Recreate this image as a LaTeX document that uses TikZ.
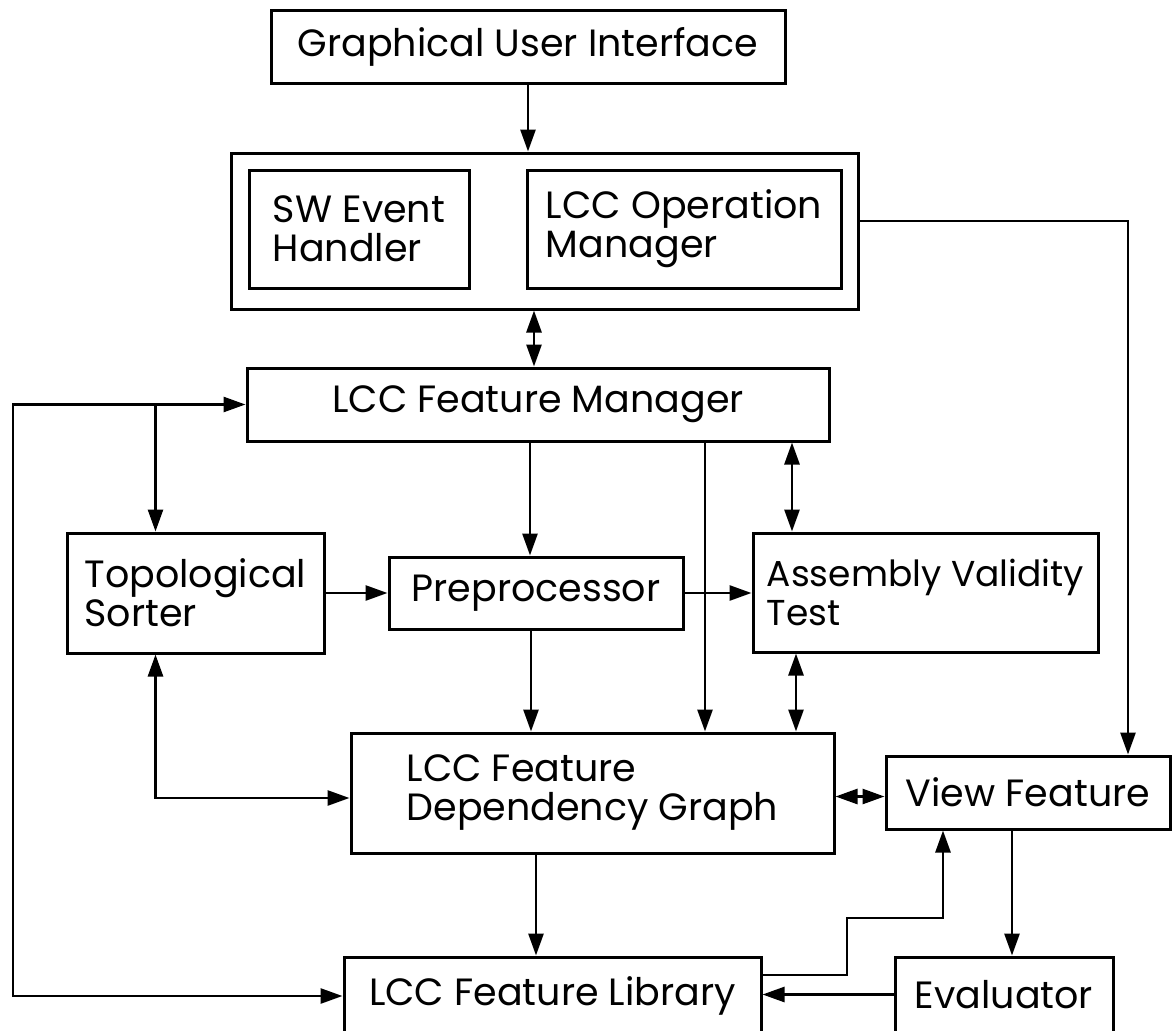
\documentclass[tikz,border=0pt]{standalone}
\usepackage{fontspec}
\setmainfont{Poppins}
\usetikzlibrary{arrows.meta}
\newcommand{\lblfont}{\fontsize{38}{39}\selectfont}
\tikzset{
  box/.style={draw, line width=3pt, inner sep=0pt, align=left, font=\lblfont},
  conn/.style={line width=2.7pt},
  arr/.style={conn, -{Triangle[length=22pt,width=15pt]}},
  darr/.style={conn, {Triangle[length=22pt,width=15pt]}-{Triangle[length=22pt,width=15pt]}}
}
\begin{document}
\begin{tikzpicture}[x=1pt, y=-1pt]
\useasboundingbox (0,0) rectangle (1173,1031);
\fill[white] (0,0) rectangle (1173,1031);
\clip (0,0) rectangle (1173,1031);

% helper x-positions for vertical connectors
\coordinate (c705) at (705,0);
\coordinate (c792) at (792,0);
\coordinate (c796) at (796,0);
\coordinate (c531) at (531,0);
\coordinate (c536) at (536,0);
\coordinate (rail) at (13,0);
\coordinate (jog) at (847,918);

% boxes
\node[box, minimum width=514pt, minimum height=73pt] (gui) at (528,46.5) {Graphical User Interface};
\node[box, minimum width=627pt, minimum height=156pt] (outer) at (544.5,231) {};
\node[box, minimum width=220pt, minimum height=118pt] (sw) at (359,229) {SW Event\\Handler};
\node[box, minimum width=314pt, minimum height=118pt] (op) at (684,229) {LCC Operation\\Manager};
\node[box, minimum width=582pt, minimum height=73pt] (fm) at (538,404.5) {LCC Feature Manager};
\node[box, minimum width=257pt, minimum height=120pt] (topo) at (195.5,593) {Topological\\Sorter};
\node[box, minimum width=294pt, minimum height=72pt] (pre) at (536,593) {Preprocessor};
\node[box, minimum width=345pt, minimum height=119pt, font=\fontsize{36}{39}\selectfont] (asm) at (925.5,592.5) {Assembly Validity\\Test};
\node[box, minimum width=483pt, minimum height=120pt] (fdg) at (592.5,793) {LCC Feature\\Dependency Graph};
\node[box, minimum width=284pt, minimum height=73pt] (vf) at (1028,792.5) {View Feature};
\node[box, minimum width=417pt, minimum height=78pt] (lib) at (552.5,996) {LCC Feature Library};
\node[box, minimum width=218pt, minimum height=75pt] (eval) at (1004,994.5) {Evaluator};

% entry points on the sides of the graph and view boxes
\coordinate (vfin) at ([yshift=-4pt]vf.west);
\coordinate (fdgin) at ([yshift=-5pt]fdg.west);

% connectors
\draw[arr] (gui.south) -- (gui.south |- outer.north);
\draw[darr] ([xshift=-4pt]fm.north |- outer.south) -- ([xshift=-4pt]fm.north);
\draw[darr] (fm.west) -- (fm.west -| rail) -- (lib.west -| rail) -- (lib.west);
\draw[arr] ([xshift=-40pt]topo.north |- fm.west) -- ([xshift=-40pt]topo.north);
\draw[arr] ([xshift=-6pt]pre.north |- fm.south) -- ([xshift=-6pt]pre.north);
\draw[arr] (topo.east) -- (topo.east -| pre.west);
\draw[arr] (pre.east) -- (pre.east -| asm.west);
\draw[arr] (fm.south -| c705) -- (fdg.north -| c705);
\draw[darr] (fm.south -| c792) -- (asm.north -| c792);
\draw[arr] (pre.south -| c531) -- (fdg.north -| c531);
\draw[darr] (asm.south -| c796) -- (fdg.north -| c796);
\draw[darr] ([xshift=-40pt]topo.south) |- (fdgin);
\draw[darr] (fdg.east |- vfin) -- (vfin);
\draw[arr] ([yshift=10pt]outer.east) -| ([xshift=100pt]vf.north);
\draw[arr] (fdg.south -| c536) -- (lib.north -| c536);
\draw[arr] ([yshift=21pt]lib.east) -| (jog) -| ([xshift=-85pt]vf.south);
\draw[arr] ([xshift=-16pt]vf.south) -- ([xshift=-16pt]vf.south |- eval.north);
\draw[arr] (eval.west) -- (eval.west -| lib.east);
\end{tikzpicture}
\end{document}
